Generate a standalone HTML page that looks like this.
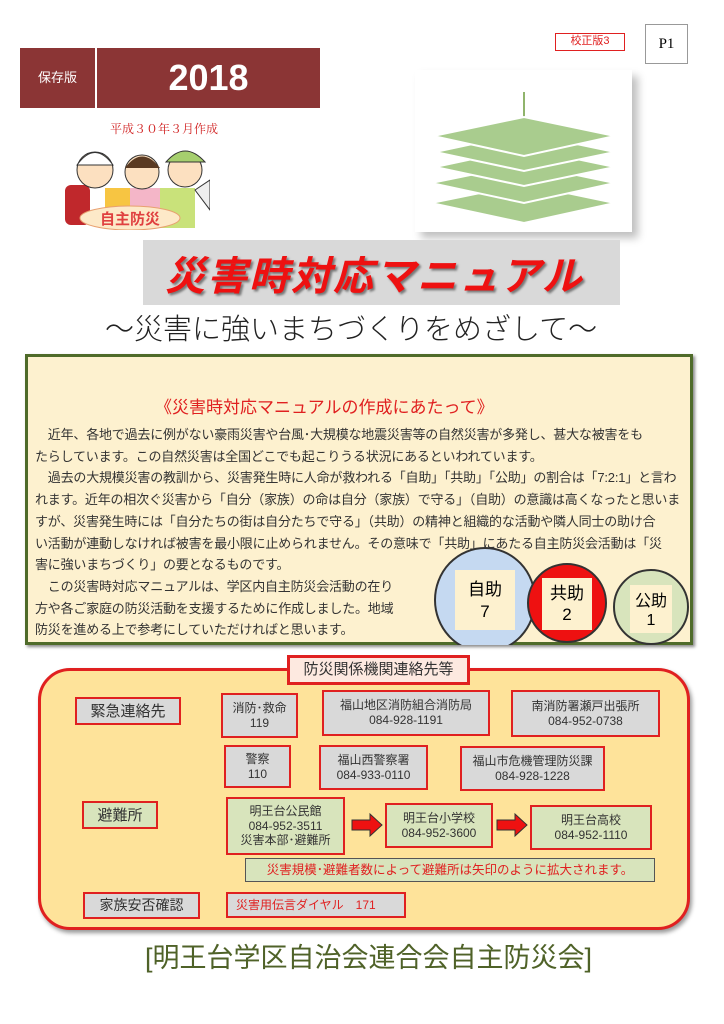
<!DOCTYPE html>
<html><head><meta charset="utf-8"><style>
*{margin:0;padding:0;box-sizing:border-box}
body{width:724px;height:1024px;background:#fff;position:relative;overflow:hidden;font-family:"Liberation Sans","Noto Sans CJK JP",sans-serif}
.a{position:absolute}
.g{position:absolute;background:#d9d9d9;border:2px solid #e02020;text-align:center;font-size:12px;line-height:15px;color:#333;display:flex;flex-direction:column;justify-content:center}
.gr{position:absolute;background:#d8e4bc;border:2px solid #e02020;text-align:center;font-size:12px;line-height:15px;color:#333;display:flex;flex-direction:column;justify-content:center}
.body p{font-size:13px;line-height:21.7px;color:#333;letter-spacing:-0.2px;white-space:nowrap}
</style></head><body>
<div class="a" style="left:20px;top:48px;width:75px;height:60px;background:#8b3535;color:#fff;font-size:13px;line-height:60px;text-align:center">保存版</div>
<div class="a" style="left:97px;top:48px;width:223px;height:60px;background:#8b3535;color:#fff;font-size:36px;font-weight:bold;line-height:60px;text-align:center">2018</div>
<div class="a" style="left:110px;top:120px;font-size:12px;color:#d02020;font-family:'Liberation Serif','Noto Serif CJK SC',serif">平成３０年３月作成</div>
<div class="a" style="left:555px;top:33px;width:70px;height:18px;border:1.5px solid #e02020;color:#e02020;font-size:11px;text-align:center;line-height:15px">校正版3</div>
<div class="a" style="left:645px;top:24px;width:43px;height:40px;border:1px solid #999;font-size:15px;font-family:'Liberation Serif',serif;text-align:center;line-height:38px">P1</div>
<svg class="a" style="left:50px;top:140px" width="160" height="90">
<rect x="15" y="45" width="25" height="40" rx="6" fill="#c0282c"/><rect x="55" y="48" width="30" height="40" fill="#f7c542"/><rect x="80" y="48" width="35" height="40" fill="#f4b6c8"/><rect x="110" y="48" width="35" height="40" fill="#c9e27a"/>
<circle cx="45" cy="30" r="18" fill="#fce0c0" stroke="#333"/><path d="M27 25 Q45 0 63 25Z" fill="#fff" stroke="#333"/>
<circle cx="92" cy="32" r="17" fill="#fce0c0" stroke="#333"/><path d="M75 28 Q92 5 110 28Z" fill="#5a3a22"/>
<circle cx="135" cy="30" r="17" fill="#fce0c0" stroke="#333"/><path d="M116 22 Q135 0 155 22Z" fill="#a6cf6e" stroke="#333"/>
<path d="M145 50 L160 40 L160 70Z" fill="#eee" stroke="#333"/>
<ellipse cx="80" cy="78" rx="50" ry="12" fill="#fde9c8" stroke="#e8a070"/><text x="80" y="84" text-anchor="middle" font-size="15" font-weight="bold" fill="#e04040">自主防災</text></svg>
<div class="a" style="left:415px;top:70px;width:217px;height:162px;background:#fff;box-shadow:6px 6px 8px rgba(0,0,0,.25)"></div>
<svg class="a" style="left:415px;top:70px" width="217" height="162">
<line x1="109" y1="22" x2="109" y2="58" stroke="#6a9a3a" stroke-width="1.5"/>
<g fill="#a9cc8e" stroke="#fff" stroke-width="2">
<polygon points="16,133 109,114 200,133 109,153"/>
<polygon points="16,113 109,94 200,113 109,133"/>
<polygon points="20,97 109,78 200,97 109,116"/>
<polygon points="20,82 109,63 200,82 109,101"/>
<polygon points="18,66 109,47 200,66 109,86"/>
</g>
</svg>
<div class="a" style="left:143px;top:240px;width:477px;height:65px;background:#d9d9d9"></div>
<div class="a" style="left:165px;top:244px;font-size:40px;font-weight:bold;font-style:italic;color:#ee1111;letter-spacing:2px;text-shadow:2px 2px 2px #777;white-space:nowrap">災害時対応マニュアル</div>
<div class="a" style="left:105px;top:306px;font-size:29px;color:#222;white-space:nowrap;font-weight:300">～災害に強いまちづくりをめざして～</div>
<div class="a" style="left:25px;top:354px;width:668px;height:291px;background:#fdf1cf;border:3px solid #4f6b2a;box-shadow:2px 2px 3px #888"></div>
<div class="a" style="left:155px;top:393px;font-size:17px;color:#e02020;white-space:nowrap">《災害時対応マニュアルの作成にあたって》</div>
<div class="a body" style="left:35px;top:424px">
<p>　近年、各地で過去に例がない豪雨災害や台風･大規模な地震災害等の自然災害が多発し、甚大な被害をも</p>
<p>たらしています。この自然災害は全国どこでも起こりうる状況にあるといわれています。</p>
<p>　過去の大規模災害の教訓から、災害発生時に人命が救われる「自助」「共助」「公助」の割合は「7:2:1」と言わ</p>
<p>れます。近年の相次ぐ災害から「自分（家族）の命は自分（家族）で守る」（自助）の意識は高くなったと思いま</p>
<p>すが、災害発生時には「自分たちの街は自分たちで守る」（共助）の精神と組織的な活動や隣人同士の助け合</p>
<p>い活動が連動しなければ被害を最小限に止められません。その意味で「共助」にあたる自主防災会活動は「災</p>
<p>害に強いまちづくり」の要となるものです。</p>
<p>　この災害時対応マニュアルは、学区内自主防災会活動の在り</p>
<p>方や各ご家庭の防災活動を支援するために作成しました。地域</p>
<p>防災を進める上で参考にしていただければと思います。</p>
</div>
<svg class="a" style="left:430px;top:545px" width="265" height="100">
<ellipse cx="55" cy="55" rx="50" ry="52" fill="#c5d9f1" stroke="#333" stroke-width="2"/>
<rect x="25" y="25" width="60" height="60" fill="#fdf1cf"/>
<text x="55" y="50" text-anchor="middle" font-size="17">自助</text><text x="55" y="72" text-anchor="middle" font-size="17">7</text>
<circle cx="137" cy="58" r="39" fill="#ee1111" stroke="#333" stroke-width="2"/>
<rect x="112" y="33" width="50" height="52" fill="#fdf1cf"/>
<text x="137" y="54" text-anchor="middle" font-size="17">共助</text><text x="137" y="75" text-anchor="middle" font-size="17">2</text>
<circle cx="221" cy="62" r="37" fill="#d8e4bc" stroke="#333" stroke-width="2"/>
<rect x="200" y="40" width="42" height="48" fill="#fdf1cf"/>
<text x="221" y="61" text-anchor="middle" font-size="16">公助</text><text x="221" y="80" text-anchor="middle" font-size="16">1</text>
</svg>
<div class="a" style="left:38px;top:668px;width:652px;height:262px;background:#fee39a;border:3px solid #e02020;border-radius:32px;box-shadow:2px 3px 4px #999"></div>
<div class="a" style="left:287px;top:655px;width:183px;height:30px;background:#fde9e0;border:3px solid #e02020;font-size:15px;text-align:center;line-height:24px;color:#333">防災関係機関連絡先等</div>
<div class="g" style="left:75px;top:697px;width:106px;height:28px;font-size:15px">緊急連絡先</div>
<div class="g" style="left:221px;top:693px;width:77px;height:45px">消防･救命<br>119</div>
<div class="g" style="left:322px;top:690px;width:168px;height:46px">福山地区消防組合消防局<br>084-928-1191</div>
<div class="g" style="left:511px;top:690px;width:149px;height:47px">南消防署瀬戸出張所<br>084-952-0738</div>
<div class="g" style="left:224px;top:745px;width:67px;height:43px">警察<br>110</div>
<div class="g" style="left:319px;top:745px;width:109px;height:45px">福山西警察署<br>084-933-0110</div>
<div class="g" style="left:460px;top:746px;width:145px;height:45px">福山市危機管理防災課<br>084-928-1228</div>
<div class="gr" style="left:82px;top:801px;width:76px;height:28px;font-size:15px">避難所</div>
<div class="gr" style="left:226px;top:797px;width:119px;height:58px;line-height:14.5px">明王台公民館<br>084-952-3511<br>災害本部･避難所</div>
<div class="gr" style="left:385px;top:803px;width:108px;height:45px">明王台小学校<br>084-952-3600</div>
<div class="gr" style="left:530px;top:805px;width:122px;height:45px">明王台高校<br>084-952-1110</div>
<svg class="a" style="left:350px;top:812px" width="180" height="28">
<polygon points="2,8 20,8 20,2 32,13 20,24 20,18 2,18" fill="#ee1111" stroke="#333"/>
<polygon points="147,8 165,8 165,2 177,13 165,24 165,18 147,18" fill="#ee1111" stroke="#333"/>
</svg>
<div class="a" style="left:245px;top:858px;width:410px;height:24px;background:#d8e4bc;border:1px solid #555;color:#e02020;font-size:12.5px;line-height:22px;text-align:center;white-space:nowrap">災害規模･避難者数によって避難所は矢印のように拡大されます。</div>
<div class="g" style="left:83px;top:892px;width:117px;height:27px;font-size:14px">家族安否確認</div>
<div class="g" style="left:226px;top:892px;width:180px;height:26px;color:#e02020;text-align:left;padding-left:8px">災害用伝言ダイヤル　171</div>
<div class="a" style="left:145px;top:936px;font-size:27px;color:#4f6228;white-space:nowrap;font-family:'Liberation Sans','Noto Sans CJK JP',sans-serif">[明王台学区自治会連合会自主防災会]</div>
</body></html>
